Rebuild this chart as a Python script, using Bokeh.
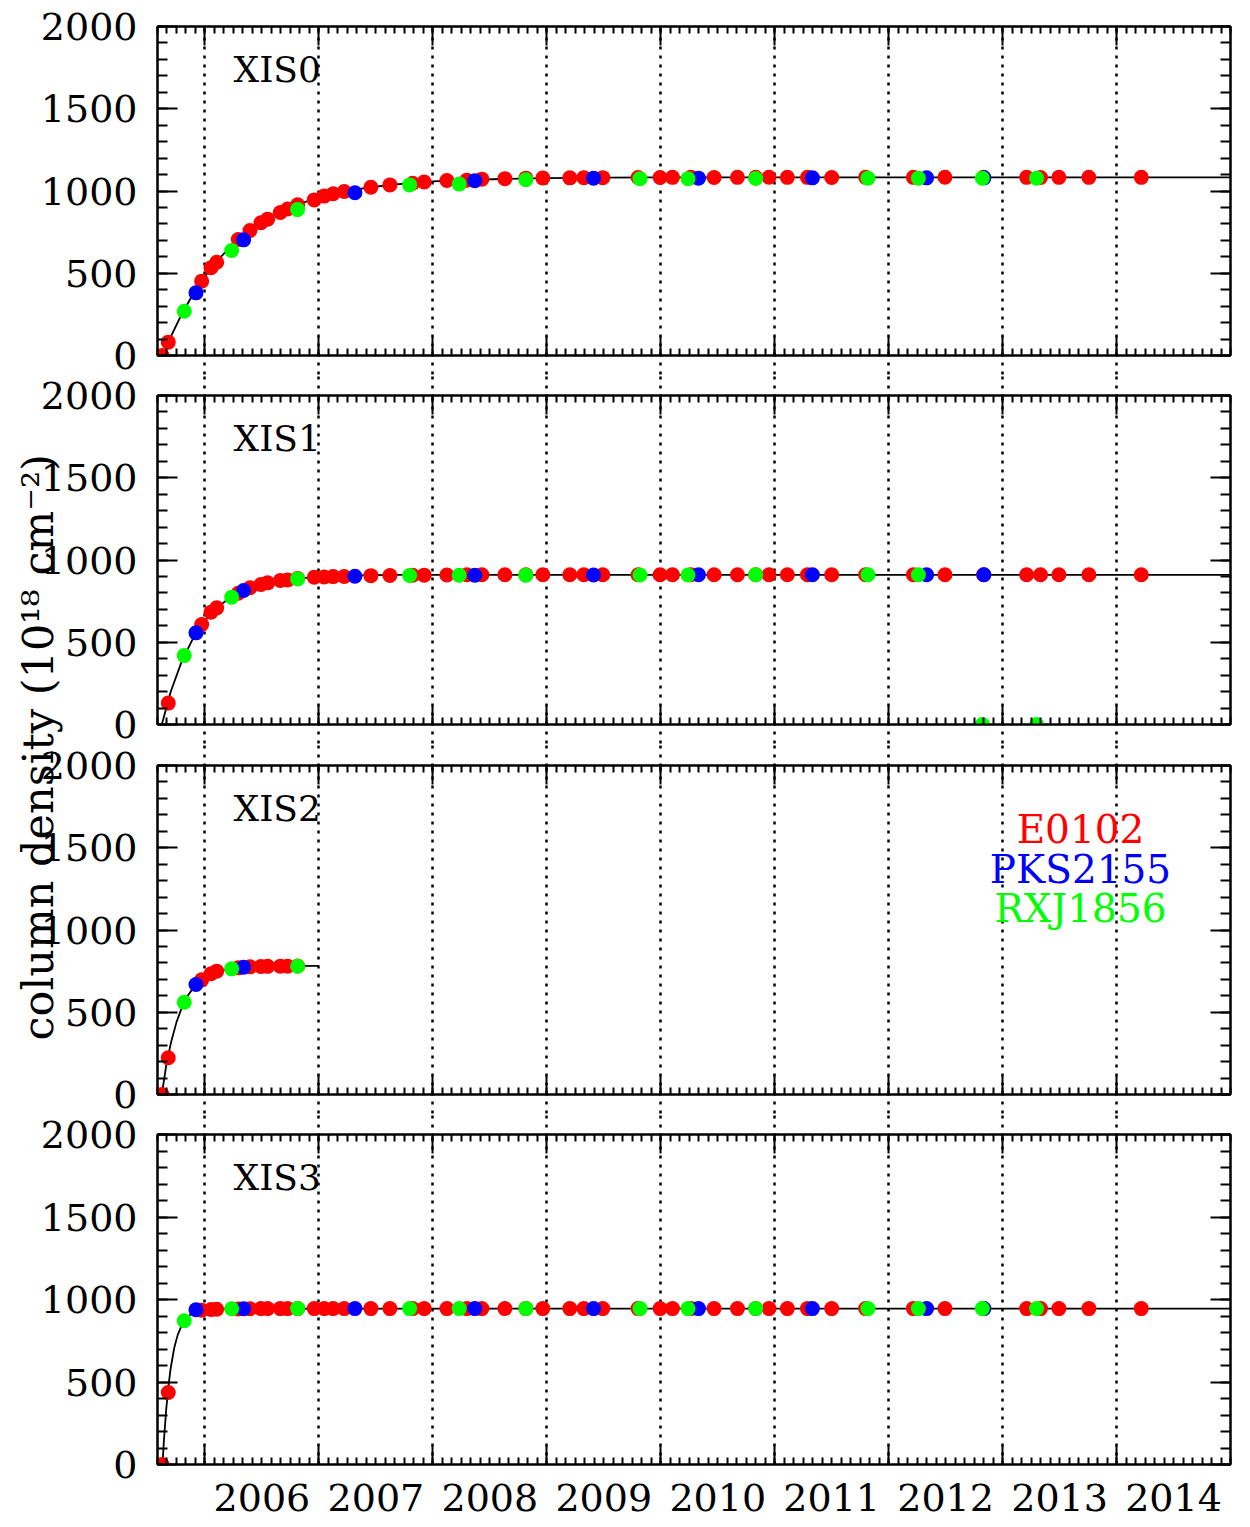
from bokeh.plotting import figure
from bokeh.layouts import column
from bokeh.models import (Range1d, LinearAxis, FixedTicker, Label, Grid,
                          ColumnDataSource, Title)
from bokeh.embed import file_html
from bokeh.resources import INLINE
from bokeh.core.properties import value

FONT = "DejaVu Serif"

# ---------------- data ----------------
years = [2006, 2007, 2008, 2009, 2010, 2011, 2012, 2013, 2014]
year_labels = ["2006", "2007", "2008", "2009", "2010", "2011", "2012", "2013", "2014"]
y_ticks = [0, 500, 1000, 1500, 2000]
panel_names = ["XIS0", "XIS1", "XIS2", "XIS3"]
source_names = ["E0102", "PKS2155", "RXJ1856"]
source_colors = ["#ff0000", "#0000ff", "#00ff00"]
y_title = "column density (10\u00b9\u2078 cm\u207b\u00b2)"

# observation epochs (year)
e0102_t = [2005.623, 2005.678, 2005.971, 2006.053, 2006.103, 2006.292, 2006.395, 2006.491,
           2006.550, 2006.661, 2006.725, 2006.813, 2006.959, 2007.046, 2007.125, 2007.222,
           2007.456, 2007.623, 2007.822, 2007.924, 2008.123, 2008.298, 2008.430, 2008.632,
           2008.816, 2008.965, 2009.202, 2009.325, 2009.491, 2009.801, 2009.994, 2010.103,
           2010.263, 2010.468, 2010.673, 2010.833, 2010.950, 2011.111, 2011.287, 2011.500,
           2011.798, 2012.217, 2012.494, 2012.833, 2013.211, 2013.333, 2013.494, 2013.757,
           2014.217]
pks2155_t = [2005.921, 2006.339, 2007.316, 2008.368, 2009.410, 2010.331, 2011.331,
             2012.333, 2012.836]
rxj1856_t = [2005.818, 2006.234, 2006.813, 2007.796, 2008.231, 2008.816, 2009.818,
             2010.239, 2010.833, 2011.818, 2012.261, 2012.822, 2013.298]

# XIS0 column densities
xis0_e0102 = [0, 81, 452, 533, 567, 705, 760, 807, 829, 869, 891, 916, 946, 969, 983, 997,
              1023, 1037, 1047, 1055, 1064, 1066, 1072, 1075, 1078, 1079, 1080, 1081, 1081,
              1082, 1082, 1083, 1083, 1082, 1083, 1083, 1084, 1083, 1083, 1082, 1083, 1083,
              1084, 1083, 1083, 1082, 1083, 1083, 1083]
xis0_pks2155 = [381, 703, 989, 1063, 1078, 1078, 1080, 1080, 1080]
xis0_rxj1856 = [269, 638, 887, 1037, 1042, 1068, 1075, 1075, 1076, 1078, 1078, 1078, 1078]

# XIS1 (no point at the first epoch of E0102)
xis1_e0102_t = e0102_t[1:]
xis1_e0102 = [130, 608, 683, 709, 798, 831, 851, 861, 875, 879, 888, 895, 897, 899, 900,
              905, 906, 907, 908, 909, 910, 910, 910, 910, 910, 910, 910, 910, 910, 910,
              910, 910, 910, 910, 910, 910, 910, 910, 910, 910, 910, 910, 910, 910, 910,
              910, 910, 910]
xis1_pks2155 = [557, 815, 901, 907, 909, 910, 910, 910, 910]
xis1_rxj1856 = [419, 774, 885, 906, 907, 908, 909, 909, 910, 910, 910, 0, 0]

# XIS2 (until end of 2006)
xis2_e0102_t = e0102_t[:12]
xis2_e0102 = [0, 223, 697, 734, 750, 770, 776, 778, 779, 780, 780, 781]
xis2_pks2155_t = pks2155_t[:2]
xis2_pks2155 = [669, 774]
xis2_rxj1856_t = rxj1856_t[:3]
xis2_rxj1856 = [561, 764, 780]

# XIS3
xis3_e0102 = [0, 436, 935, 939, 941, 943, 944, 945, 945, 945, 945, 945, 945, 945, 945, 945,
              945, 945, 945, 945, 945, 945, 945, 945, 945, 945, 945, 945, 945, 945, 945, 945,
              945, 945, 945, 945, 945, 945, 945, 945, 945, 945, 945, 945, 945, 945, 945, 945,
              945]
xis3_pks2155 = [938, 944, 945, 945, 945, 945, 945, 945, 945]
xis3_rxj1856 = [871, 944, 945, 945, 945, 945, 945, 945, 945, 945, 945, 945, 945]

# model curves
xis0_model_t = [2005.630, 2005.70, 2005.80, 2005.90, 2006.00, 2006.10, 2006.20, 2006.30,
                2006.40, 2006.50, 2006.60, 2006.70, 2006.80, 2006.90, 2007.00, 2007.20,
                2007.40, 2007.60, 2007.80, 2008.00, 2008.30, 2008.60, 2009.00, 2009.50,
                2010.00, 2015.00]
xis0_model = [0, 114, 257, 378, 481, 570, 644, 710, 764, 811, 851, 885, 914, 939, 960, 993,
              1018, 1035, 1048, 1058, 1067, 1073, 1078, 1081, 1083, 1083]
xis1_model_t = [2005.621, 2005.70, 2005.80, 2005.90, 2006.00, 2006.10, 2006.20, 2006.30,
                2006.40, 2006.50, 2006.60, 2006.80, 2007.00, 2007.30, 2007.70, 2008.20,
                2015.00]
xis1_model = [0, 201, 391, 530, 632, 706, 761, 801, 830, 851, 867, 887, 898, 906, 909, 910, 910]
xis2_model_t = [2005.621, 2005.66, 2005.70, 2005.75, 2005.80, 2005.85, 2005.90, 2005.95,
                2006.00, 2006.10, 2006.20, 2006.35, 2006.60, 2007.00]
xis2_model = [0, 177, 311, 440, 534, 602, 651, 687, 713, 746, 763, 775, 781, 782]
xis3_model_t = [2005.627, 2005.64, 2005.66, 2005.68, 2005.70, 2005.73, 2005.76, 2005.80,
                2005.85, 2005.90, 2006.00, 2006.20, 2015.00]
xis3_model = [0, 150, 336, 479, 588, 706, 784, 851, 897, 920, 938, 944, 945]

panels = [
    dict(name=panel_names[0], model=(xis0_model_t, xis0_model),
         pts=[(e0102_t, xis0_e0102), (pks2155_t, xis0_pks2155), (rxj1856_t, xis0_rxj1856)]),
    dict(name=panel_names[1], model=(xis1_model_t, xis1_model),
         pts=[(xis1_e0102_t, xis1_e0102), (pks2155_t, xis1_pks2155), (rxj1856_t, xis1_rxj1856)]),
    dict(name=panel_names[2], model=(xis2_model_t, xis2_model),
         pts=[(xis2_e0102_t, xis2_e0102), (xis2_pks2155_t, xis2_pks2155),
              (xis2_rxj1856_t, xis2_rxj1856)]),
    dict(name=panel_names[3], model=(xis3_model_t, xis3_model),
         pts=[(e0102_t, xis3_e0102), (pks2155_t, xis3_pks2155), (rxj1856_t, xis3_rxj1856)]),
]

# ---------------- layout ----------------
W = 1242
LEFT, RIGHT = 157, 12
FRAME_W = W - LEFT - RIGHT
FRAME_H = [329, 329, 329, 330]
TOP = [26, 20, 21, 20]
BOTTOM = [20, 20, 20, 63]
FRAME_BOTTOM = [355, 724, 1094, 1464]   # page y of each frame's bottom edge
X0, X1 = 2005 + 7 / 12, 2015.0
Y0, Y1 = 0, 2000
month_ticks = [2005 + m / 12 for m in range(7, 181) if 2005 + m / 12 <= X1 + 1e-9]
y_minor = list(range(0, 2001, 100))
TICK_FONT_SIZE = "38px"


def dx(px):
    return px * (X1 - X0) / FRAME_W


def dy(px, i):
    return px * (Y1 - Y0) / FRAME_H[i]


def hide_labels(ax):
    ax.major_label_text_font_size = "1px"
    ax.major_label_text_color = None
    ax.major_label_standoff = 0


def tick_axis(ticker, major_in, minor_in, labels=False):
    ax = LinearAxis(ticker=ticker)
    ax.major_tick_in = major_in
    ax.major_tick_out = 0
    ax.minor_tick_in = minor_in
    ax.minor_tick_out = 0
    ax.major_tick_line_width = 2
    ax.minor_tick_line_width = 2
    ax.major_tick_line_color = "black"
    ax.minor_tick_line_color = "black"
    ax.axis_line_width = 2
    ax.axis_line_color = "black"
    if labels:
        ax.major_label_text_font = FONT
        ax.major_label_text_font_size = TICK_FONT_SIZE
        ax.major_label_text_color = "black"
        ax.major_label_standoff = 20
    else:
        hide_labels(ax)
    return ax


def gap_axis(length):
    # dotted year lines that continue through the space between panels
    ax = LinearAxis(ticker=FixedTicker(ticks=years, minor_ticks=[]))
    ax.axis_line_color = None
    ax.major_tick_in = 0
    ax.major_tick_out = length
    ax.minor_tick_in = 0
    ax.minor_tick_out = 0
    ax.major_tick_line_color = "black"
    ax.major_tick_line_width = 2.5
    ax.major_tick_line_dash = "3 6"
    ax.minor_tick_line_color = None
    hide_labels(ax)
    return ax


figs = []
for i, pan in enumerate(panels):
    h = TOP[i] + FRAME_H[i] + BOTTOM[i]
    p = figure(width=W, height=h, x_range=Range1d(X0, X1), y_range=Range1d(Y0, Y1),
               x_axis_type=None, y_axis_type=None, toolbar_location=None,
               output_backend="svg", min_border_left=LEFT, min_border_right=RIGHT,
               min_border_top=TOP[i], min_border_bottom=BOTTOM[i])
    p.outline_line_color = "black"
    p.outline_line_width = 2
    p.background_fill_color = "white"
    p.border_fill_color = "white"

    p.add_layout(tick_axis(FixedTicker(ticks=years, minor_ticks=month_ticks), 19, 7), "below")
    p.add_layout(tick_axis(FixedTicker(ticks=years, minor_ticks=month_ticks), 19, 7), "above")
    p.add_layout(tick_axis(FixedTicker(ticks=y_ticks, minor_ticks=y_minor), 20, 10, True), "left")
    p.add_layout(tick_axis(FixedTicker(ticks=y_ticks, minor_ticks=y_minor), 20, 10), "right")

    if i > 0:
        p.add_layout(gap_axis(TOP[i] - 1), "above")
    if i < 3:
        p.add_layout(gap_axis(BOTTOM[i] - 1), "below")
    else:
        lab_pos = [y + 0.5 for y in years]
        lab = LinearAxis(ticker=FixedTicker(ticks=lab_pos, minor_ticks=[]))
        lab.major_label_overrides = {pos: txt for pos, txt in zip(lab_pos, year_labels)}
        lab.major_tick_in = 0
        lab.major_tick_out = 0
        lab.minor_tick_in = 0
        lab.minor_tick_out = 0
        lab.axis_line_color = None
        lab.major_tick_line_color = None
        lab.minor_tick_line_color = None
        lab.major_label_text_font = FONT
        lab.major_label_text_font_size = TICK_FONT_SIZE
        lab.major_label_text_color = "black"
        lab.major_label_standoff = 19
        p.add_layout(lab, "below")

    p.add_layout(Grid(dimension=0, ticker=FixedTicker(ticks=years), grid_line_color="black",
                      grid_line_dash="3 6", grid_line_width=2.5))

    mt, mv = pan["model"]
    p.line(mt, mv, line_color="black", line_width=1.8)
    for (t, v), col in zip(pan["pts"], source_colors):
        p.scatter(t, v, marker="circle", size=15, fill_color=col, line_color=None)

    p.add_layout(Label(x=X0 + dx(76), y=Y1 - dy(43, i), text=pan["name"], text_font=FONT,
                       text_font_size="36px", text_color="black", text_align="left",
                       text_baseline="alphabetic"))

    if i == 2:
        src = ColumnDataSource(dict(x=[X0 + dx(923)] * 3,
                                    y=[dy(265, i), dy(225, i), dy(186, i)],
                                    t=source_names, c=source_colors))
        p.text(x="x", y="y", text="t", text_color="c", source=src, text_font=value(FONT),
               text_font_size="39px", text_align="center", text_baseline="alphabetic")

    figs.append(p)

# y-axis title straddling panels 2 and 3: drawn in both canvases, each showing its part
TITLE_START_Y = 1040   # page y where the title text begins (it reads upwards)
for i in (1, 2):
    figs[i].add_layout(Title(text=y_title, align="left", vertical_align="bottom",
                             offset=FRAME_BOTTOM[i] - TITLE_START_Y, standoff=-50,
                             text_font=FONT, text_font_size="43px", text_color="black",
                             text_font_style="normal"), "left")

layout = column(*figs, spacing=0)
open("out.html", "w").write(file_html(layout, INLINE))
